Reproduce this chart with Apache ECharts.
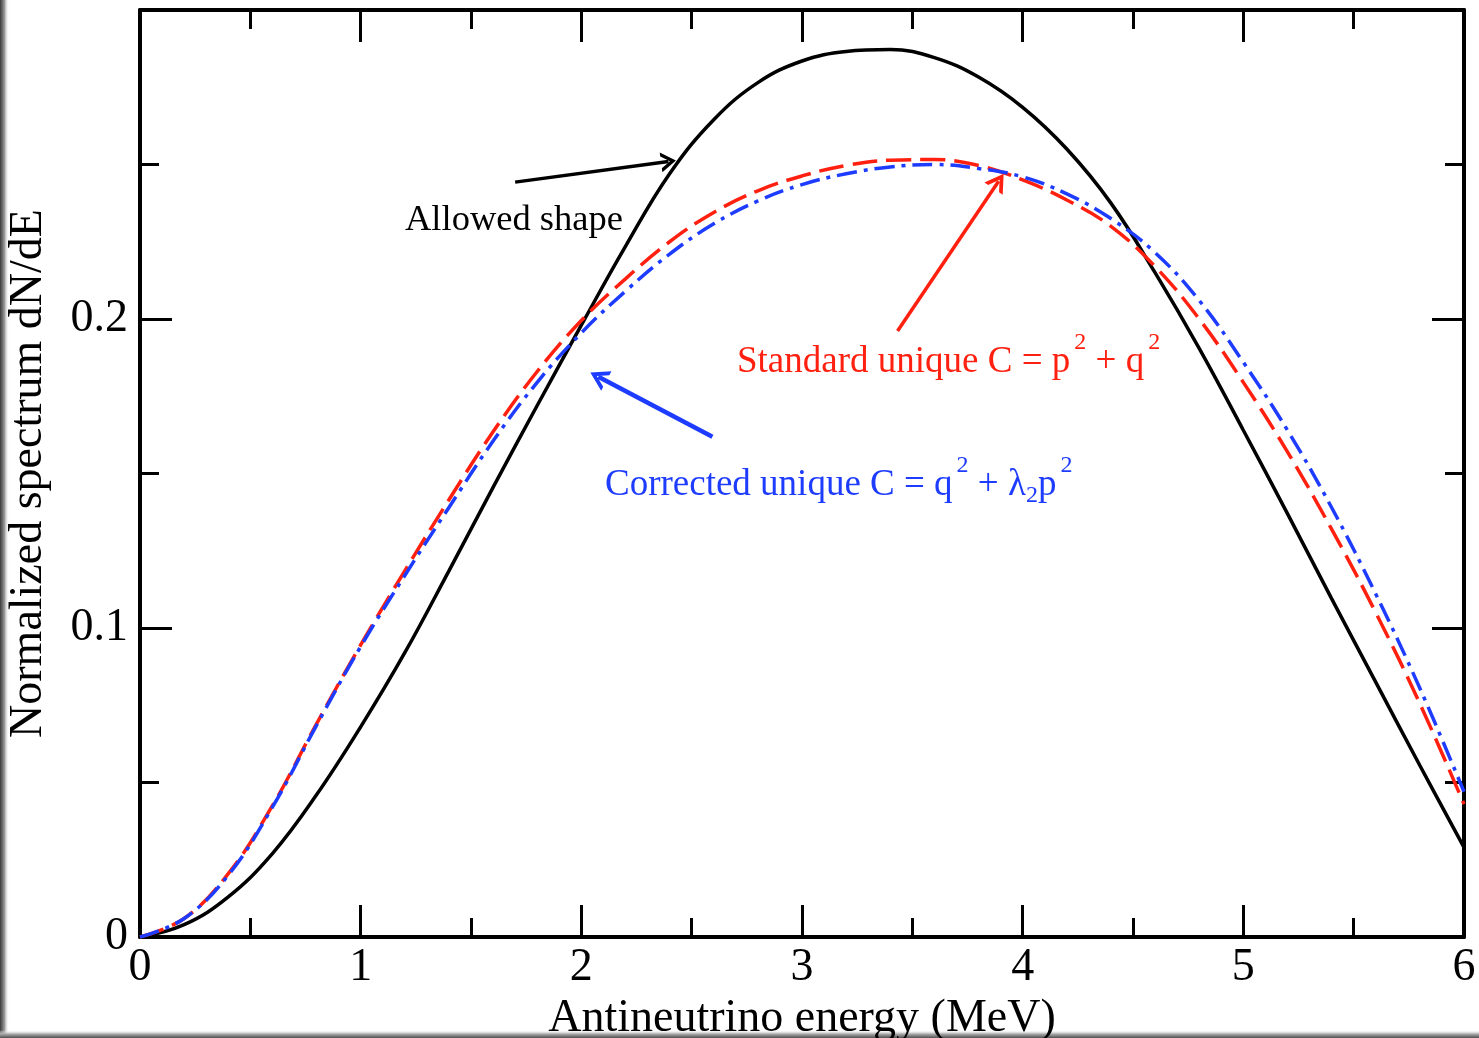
<!DOCTYPE html>
<html>
<head>
<meta charset="utf-8">
<script src="https://cdn.jsdelivr.net/npm/echarts@6/dist/echarts.min.js"></script>
<style>
html,body{margin:0;padding:0;background:#fff;}
#chart{width:1479px;height:1038px;}
</style>
</head>
<body>
<div id="chart"></div>
<script>
// ---- data ----
var energy = [0,0.2,0.4,0.6,0.8,1.0,1.2,1.4,1.6,1.8,2.0,2.2,2.4,2.6,2.8,3.0,3.2,3.4,3.6,3.8,4.0,4.2,4.4,4.6,4.8,5.0,5.2,5.4,5.6,5.8,6.0];
var allowedShape = [0,0.0040,0.0130,0.0270,0.0460,0.0680,0.0920,0.1185,0.1455,0.1720,0.1980,0.2235,0.2470,0.2645,0.2765,0.2835,0.2866,0.2872,0.2846,0.2783,0.2685,0.2550,0.2375,0.2150,0.1905,0.1640,0.1370,0.1095,0.0825,0.0555,0.0290];
var standardUnique = [0,0.0060,0.0205,0.0425,0.0690,0.0945,0.1185,0.1415,0.1635,0.1830,0.1995,0.2130,0.2250,0.2345,0.2415,0.2463,0.2497,0.2514,0.2516,0.2497,0.2450,0.2385,0.2300,0.2170,0.2000,0.1795,0.1570,0.1320,0.1050,0.0755,0.0430];
var correctedUnique = [0,0.0060,0.0200,0.0420,0.0685,0.0940,0.1170,0.1390,0.1605,0.1795,0.1955,0.2090,0.2210,0.2308,0.2382,0.2435,0.2470,0.2492,0.2500,0.2487,0.2460,0.2405,0.2325,0.2215,0.2060,0.1860,0.1640,0.1390,0.1110,0.0805,0.0470];
var xTickLabels = ['0','1','2','3','4','5','6'];
var yTickLabels = ['0','0.1','0.2',''];
// annotation arrows: [fromX, fromY, toX, toY]
var arrowAllowed = [1.70, 0.2443, 2.395, 0.2510];
var arrowStandard = [3.433, 0.1961, 3.891, 0.2446];
var arrowCorrected = [2.594, 0.1619, 2.077, 0.1813];

var SERIF = '"Liberation Serif","DejaVu Serif",serif';
var RED = '#ff2010';
var BLUE = '#1e3cff';

function pairs(ys){ return energy.map(function(x,i){ return [x, ys[i]]; }); }
var chev = 'path://M0,20 L10,0 L20,20 L16,20 L10,8 L4,20 Z';
function arrow(a, color, w, size){
  return {
    silent: true,
    symbol: ['none', chev],
    symbolSize: size,
    label: {show:false},
    emphasis: {disabled:true},
    lineStyle: {color: color, width: w, type: 'solid'},
    itemStyle: {color: color},
    data: [[{coord:[a[0],a[1]]},{coord:[a[2],a[3]]}]]
  };
}

var chart = echarts.init(document.getElementById('chart'), null, {renderer:'canvas'});
var axisCommon = {
  type:'value', min:0,
  axisLine:{show:true, onZero:false, lineStyle:{color:'#000', width:4}},
  axisTick:{show:true, inside:true, length:32, lineStyle:{color:'#000', width:3}},
  minorTick:{show:true, splitNumber:2, length:19, lineStyle:{color:'#000', width:3}},
  splitLine:{show:false}, minorSplitLine:{show:false}
};
function ax(extra){ return Object.assign({}, JSON.parse(JSON.stringify(axisCommon)), extra); }

var supStyle = function(c){ return {fontSize:24, fontFamily:SERIF, fill:c, padding:[0,0,38,4]}; };
var subStyle = function(c){ return {fontSize:24, fontFamily:SERIF, fill:c, padding:[22,0,0,0]}; };
var mainStyle = function(c){ return {fontSize:37, fontFamily:SERIF, fill:c}; };

chart.setOption({
  backgroundColor:'#fff',
  animation:false,
  grid:{left:140, right:15, top:10, bottom:101, containLabel:false, outerBoundsMode:'none'},
  xAxis:[
    ax({position:'bottom', max:6, interval:1,
      axisLabel:{show:true, margin:8, color:'#000', fontFamily:SERIF, fontSize:46,
        formatter:function(v,i){ return xTickLabels[i]; }},
      name:'Antineutrino energy (MeV)', nameLocation:'middle', nameGap:49,
      nameTextStyle:{color:'#000', fontFamily:SERIF, fontSize:46}}),
    ax({position:'top', max:6, interval:1, axisLabel:{show:false}})
  ],
  yAxis:[
    ax({position:'left', max:0.3, interval:0.1,
      axisLabel:{show:true, margin:12, color:'#000', fontFamily:SERIF, fontSize:46,
        formatter:function(v,i){ return yTickLabels[i]; }},
      name:'Normalized spectrum dN/dE', nameLocation:'middle', nameGap:88,
      nameTextStyle:{color:'#000', fontFamily:SERIF, fontSize:46}}),
    ax({position:'right', max:0.3, interval:0.1, axisLabel:{show:false}})
  ],
  series:[
    {name:'Allowed shape', type:'line', data:pairs(allowedShape), showSymbol:false, smooth:0.4,
      lineStyle:{color:'#000', width:3.5}, z:3,
      markLine: arrow(arrowAllowed, '#000', 3.5, [20,15])},
    {name:'Standard unique', type:'line', data:pairs(standardUnique), showSymbol:false, smooth:0.4,
      lineStyle:{color:RED, width:3.5, type:[25,9]}, z:4,
      markLine: arrow(arrowStandard, RED, 3.5, [22,18])},
    {name:'Corrected unique', type:'line', data:pairs(correctedUnique), showSymbol:false, smooth:0.4,
      lineStyle:{color:BLUE, width:3.5, type:[20,7,4,7]}, z:5,
      markLine: arrow(arrowCorrected, BLUE, 4.5, [22,18])}
  ],
  graphic:[
    {type:'rect', left:0, top:0, shape:{width:9, height:1038}, silent:true,
      style:{fill:new echarts.graphic.LinearGradient(0,0,1,0,[{offset:0,color:'#3a3a3a'},{offset:0.5,color:'#9a9a9a'},{offset:1,color:'rgba(255,255,255,0)'}])}},
    {type:'rect', left:0, top:1030, shape:{width:1479, height:8}, silent:true,
      style:{fill:new echarts.graphic.LinearGradient(0,0,0,1,[{offset:0,color:'rgba(255,255,255,0)'},{offset:0.5,color:'#aaaaaa'},{offset:1,color:'#505050'}])}},
    {type:'text', left:405, top:202, silent:true,
      style:{text:'Allowed shape', fill:'#000', font:'36.5px ' + SERIF}},
    {type:'text', left:737, top:331, silent:true,
      style:{text:'{m|Standard unique C = p}{s|2}{m| + q}{s|2}', fill:RED,
        rich:{m:mainStyle(RED), s:supStyle(RED)}}},
    {type:'text', left:605, top:454, silent:true,
      style:{text:'{m|Corrected unique C = q}{s|2}{m| + λ}{b|2}{m|p}{s|2}', fill:BLUE,
        rich:{m:mainStyle(BLUE), s:supStyle(BLUE), b:subStyle(BLUE)}}}
  ]
});
</script>
</body>
</html>
